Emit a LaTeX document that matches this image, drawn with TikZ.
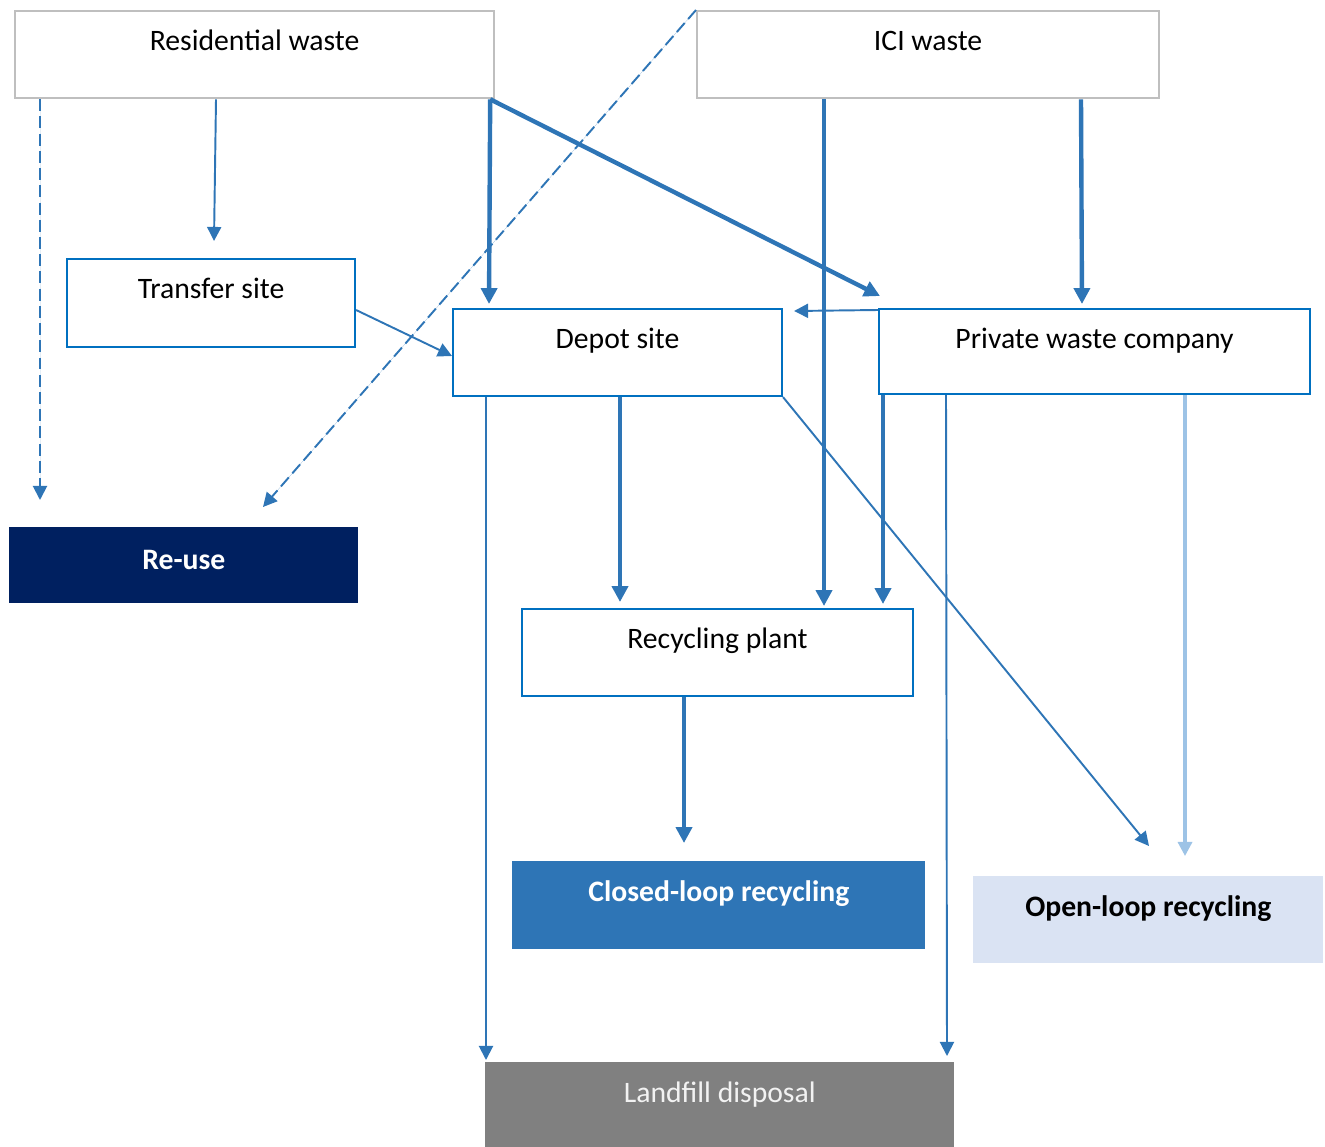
\documentclass[tikz,border=0pt]{standalone}
\usepackage{fontspec}
\setmainfont{Carlito}
\usetikzlibrary{arrows.meta,calc}
\definecolor{boxblue}{HTML}{0070C0}
\definecolor{linkblue}{HTML}{2E75B6}
\definecolor{lightlink}{HTML}{9DC3E6}
\definecolor{boxgray}{HTML}{BFBFBF}
\definecolor{reusefill}{HTML}{002060}
\definecolor{openfill}{HTML}{DAE3F3}
\definecolor{landfill}{HTML}{808080}
\tikzset{
  box/.style={rectangle, anchor=north west, inner sep=0pt, align=center,
    text height=0.78cm, font=\fontsize{16.9}{20}\selectfont},
  srcbox/.style={box, draw=boxgray, line width=1.3pt},
  stepbox/.style={box, draw=boxblue, line width=1.2pt},
  endbox/.style={box, fill=#1},
  link/.style={draw=linkblue, line width=1.1pt,
    -{Triangle[length=8pt,width=8pt]}, fill=linkblue},
  thicklink/.style={link, line width=2.5pt, -{Triangle[length=9pt,width=9pt]}},
  dashlink/.style={link, dash pattern=on 6.8pt off 3pt},
}
\begin{document}
\begin{tikzpicture}[x=0.02cm,y=-0.02cm]
    \useasboundingbox (0,0) rectangle (1325,1146);
    % 方框
    \node[srcbox, minimum width=9.58cm, text depth=0.96cm] (res) at (14,10) {Residential waste};
    \node[srcbox, minimum width=9.24cm, text depth=0.96cm] (ici) at (696,10) {ICI waste};
    \node[stepbox, minimum width=5.76cm, text depth=0.98cm] (transfer) at (66,258) {Transfer site};
    \node[stepbox, minimum width=6.58cm, text depth=0.96cm] (depot) at (452,308) {Depot site};
    \node[stepbox, minimum width=8.62cm, text depth=0.92cm] (private) at (878,308) {Private waste company};
    \node[stepbox, minimum width=7.82cm, text depth=0.96cm] (recycle) at (521,608) {Recycling plant};
    \node[endbox=reusefill, minimum width=6.98cm, text height=0.84cm, text depth=0.68cm,
      text=white, font=\fontsize{16.9}{20}\selectfont\bfseries] (reuse) at (9,527) {Re-use};
    \node[endbox=linkblue, minimum width=8.26cm, text height=0.8cm, text depth=0.96cm,
      text=white, font=\fontsize{16.9}{20}\selectfont\bfseries] (closed) at (512,861) {Closed-loop recycling};
    \node[endbox=openfill, minimum width=7.0cm, text height=0.8cm, text depth=0.94cm,
      font=\fontsize{16.9}{20}\selectfont\bfseries] (openloop) at (973,876) {Open-loop recycling};
    \node[endbox=landfill, minimum width=9.38cm, text height=0.8cm, text depth=1.0cm,
      text=white!95!black] (landfill) at (485,1062) {Landfill disposal};

    % 箭头
    \draw[dashlink] ($(res.south west)+(26,0)$) -- ($(reuse.north west)+(31,-27)$);
    \draw[dashlink] (ici.north west) -- ($(reuse.north west)+(254,-20)$);
    \draw[link] ($(res.south west)+(202,0)$) -- ($(transfer.north west)+(148,-17)$);
    \draw[thicklink] ($(res.south east)+(-5,0)$) -- ($(depot.north west)+(37,-4)$);
    \draw[thicklink] ($(res.south east)+(-5,0)$) -- ($(private.north west)+(2,-12)$);
    \draw[link] ($(transfer.north east)+(0,52)$) -- ($(depot.north west)+(0,48)$);
    \draw[link] ($(private.north west)+(0,2)$) -- ($(depot.north east)+(11,3)$);
    \draw[thicklink] ($(ici.south west)+(128,0)$) -- ($(recycle.north west)+(303,-2)$);
    \draw[thicklink] ($(ici.south west)+(385,0)$) -- ($(private.north west)+(204,-4)$);
    \draw[thicklink] ($(depot.south west)+(168,0)$) -- ($(recycle.north west)+(99,-6)$);
    \draw[thicklink] ($(private.south west)+(5,0)$) -- ($(recycle.north west)+(362,-4)$);
    \draw[link] ($(depot.south west)+(34,0)$) -- ($(landfill.north west)+(1,-2)$);
    \draw[link] (depot.south east) -- ($(openloop.north west)+(176,-30)$);
    \draw[link] ($(private.south west)+(68,0)$) -- ($(landfill.north west)+(462,-6)$);
    \draw[link, draw=lightlink, fill=lightlink, line width=1.8pt] ($(private.south west)+(307,0)$) -- ($(openloop.north west)+(212,-20)$);
    \draw[thicklink] ($(recycle.south west)+(163,0)$) -- ($(closed.north west)+(172,-18)$);
\end{tikzpicture}
\end{document}
